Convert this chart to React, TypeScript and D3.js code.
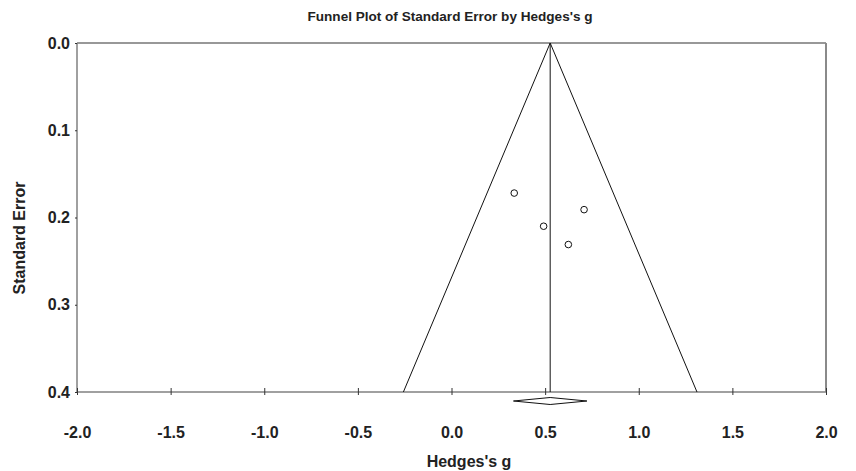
import { useRef, useEffect } from "react";
import * as d3 from "d3";

// study effects
const studyG = [0.335, 0.492, 0.708, 0.624];
const studySE = [0.172, 0.21, 0.191, 0.231];
// pooled estimate and its 95% CI
const pooledG = 0.527;
const pooledCI = [0.331, 0.723];
const xTicks = [-2.0, -1.5, -1.0, -0.5, 0.0, 0.5, 1.0, 1.5, 2.0];
const yTicks = [0.0, 0.1, 0.2, 0.3, 0.4];
const maxSE = 0.4;

const FONT = "'Liberation Sans', Arial, sans-serif";

// plain hyphen instead of d3's unicode minus
const fmt = (d: d3.NumberValue) => d3.format(".1f")(+d).replace("\u2212", "-");

export default function App() {
    const ref = useRef<SVGSVGElement>(null);

    useEffect(() => {
        const svg = d3.select(ref.current);
        svg.selectAll("*").remove();

        const left = 77, right = 826, top = 43, bottom = 392;

        const x = d3.scaleLinear().domain([-2, 2]).range([left, right]);
        const y = d3.scaleLinear().domain([0, maxSE]).range([top, bottom]);

        // title
        svg.append("text")
            .attr("x", 450).attr("y", 21)
            .attr("text-anchor", "middle")
            .attr("font-family", FONT).attr("font-weight", "bold")
            .attr("font-size", 13).attr("fill", "#222")
            .attr("textLength", 285).attr("lengthAdjust", "spacingAndGlyphs")
            .text("Funnel Plot of Standard Error by Hedges's g");

        // frame
        const frame = svg.append("g");
        frame.append("line").attr("x1", left).attr("x2", right).attr("y1", top).attr("y2", top)
            .attr("stroke", "#333").attr("stroke-width", 1.2);
        frame.append("line").attr("x1", left).attr("x2", left).attr("y1", top).attr("y2", bottom)
            .attr("stroke", "#808080").attr("stroke-width", 1.5);
        frame.append("line").attr("x1", right).attr("x2", right).attr("y1", top).attr("y2", bottom)
            .attr("stroke", "#8a8a8a").attr("stroke-width", 2);
        frame.append("line").attr("x1", left).attr("x2", right).attr("y1", bottom).attr("y2", bottom)
            .attr("stroke", "#808080").attr("stroke-width", 1.5);

        // y axis
        const yAxis = d3.axisLeft(y).tickValues(yTicks).tickSize(2).tickPadding(5)
            .tickFormat(fmt);
        const gy = svg.append("g").attr("transform", `translate(${left},0)`).call(yAxis);
        gy.select(".domain").remove();
        gy.selectAll("line").attr("stroke", "#333");
        gy.selectAll("text")
            .attr("font-family", FONT).attr("font-weight", "bold")
            .attr("font-size", 16).attr("fill", "#222");

        // x axis
        const xAxis = d3.axisBottom(x).tickValues(xTicks).tickSize(3)
            .tickFormat(fmt);
        const gx = svg.append("g").attr("transform", `translate(0,${bottom})`).call(xAxis);
        gx.select(".domain").remove();
        gx.selectAll("line").attr("y1", -4).attr("y2", 3).attr("stroke", "#333");
        gx.selectAll("text")
            .attr("y", 40).attr("dy", "0.35em")
            .attr("font-family", FONT).attr("font-weight", "bold")
            .attr("font-size", 16).attr("fill", "#222");

        // axis titles
        svg.append("text")
            .attr("transform", "translate(25,238) rotate(-90)")
            .attr("text-anchor", "middle")
            .attr("font-family", FONT).attr("font-weight", "bold")
            .attr("font-size", 16).attr("fill", "#222")
            .text("Standard Error");
        svg.append("text")
            .attr("x", 469).attr("y", 467)
            .attr("text-anchor", "middle")
            .attr("font-family", FONT).attr("font-weight", "bold")
            .attr("font-size", 16).attr("fill", "#222")
            .text("Hedges's g");

        // funnel
        const funnel: [number, number][] = [
            [pooledG - 1.96 * maxSE, maxSE],
            [pooledG, 0],
            [pooledG + 1.96 * maxSE, maxSE],
        ];
        svg.append("path")
            .datum(funnel)
            .attr("fill", "none").attr("stroke", "#111").attr("stroke-width", 1)
            .attr("d", d3.line<[number, number]>().x(d => x(d[0])).y(d => y(d[1])));
        svg.append("line")
            .attr("x1", x(pooledG)).attr("x2", x(pooledG))
            .attr("y1", y(0)).attr("y2", y(maxSE))
            .attr("stroke", "#111").attr("stroke-width", 1);

        // diamond
        const dy = bottom + 9;
        const diamond: [number, number][] = [
            [x(pooledCI[0]), dy],
            [x(pooledG), dy - 3.5],
            [x(pooledCI[1]), dy],
            [x(pooledG), dy + 3.5],
        ];
        svg.append("path")
            .attr("d", d3.line()(diamond) + "Z")
            .attr("fill", "white").attr("stroke", "#111").attr("stroke-width", 1);

        // studies
        svg.append("g").selectAll("circle")
            .data(studyG.map((g, i) => [g, studySE[i]]))
            .enter().append("circle")
            .attr("cx", d => x(d[0]))
            .attr("cy", d => y(d[1]))
            .attr("r", 3.3)
            .attr("fill", "white").attr("stroke", "#111").attr("stroke-width", 1);
    }, []);

    return (
        <svg ref={ref} width={856} height={471}
            style={{ position: "absolute", left: 0, top: 0, background: "white" }}></svg>
    );
}
